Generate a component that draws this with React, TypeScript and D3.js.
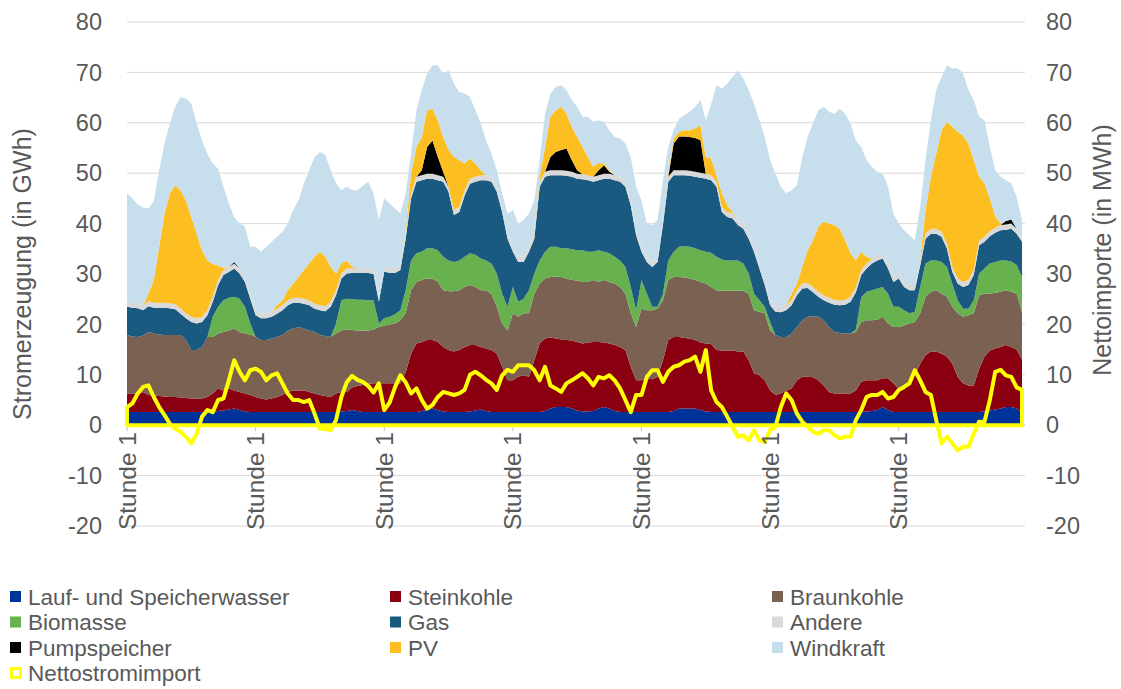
import React from 'react';
import * as d3 from 'd3';

// Stündliche Werte über 7 Tage (168 Stunden), in GWh
const wasser = [
  2.6,2.6,2.6,2.6,2.6,2.6,2.6,2.6,2.6,2.6,2.6,2.6,2.6,2.6,2.6,2.6,2.6,2.8,2.9,3.1,3.3,3.0,2.7,2.6,
  2.6,2.6,2.6,2.6,2.6,2.6,2.6,2.6,2.6,2.6,2.6,2.6,2.6,2.6,2.6,2.6,2.7,2.8,3.0,2.8,2.6,2.6,2.6,2.6,
  2.6,2.6,2.6,2.6,2.6,2.6,2.6,2.8,3.0,3.3,3.0,2.7,2.6,2.6,2.6,2.6,2.7,2.9,3.1,2.8,2.6,2.6,2.6,2.6,
  2.6,2.6,2.6,2.6,2.6,2.6,2.8,3.3,3.6,3.6,3.6,3.3,2.9,2.7,2.7,2.8,3.3,3.6,3.3,2.8,2.6,2.6,2.6,2.6,
  2.6,2.6,2.6,2.6,2.6,2.6,2.8,3.3,3.3,3.3,3.3,3.0,2.7,2.6,2.6,2.6,2.6,2.6,2.6,2.6,2.6,2.6,2.6,2.6,
  2.6,2.6,2.6,2.6,2.6,2.6,2.6,2.6,2.6,2.6,2.6,2.6,2.6,2.6,2.6,2.6,2.6,2.6,2.7,2.8,3.0,3.6,3.0,2.6,
  2.6,2.6,2.6,2.6,2.6,2.6,2.6,2.6,2.6,2.6,2.6,2.6,2.6,2.6,2.6,2.6,2.7,2.9,3.1,3.3,3.6,3.6,3.3,2.6,
];
const steinkohle = [
  3.7,3.7,3.7,4.0,3.4,3.3,3.2,3.1,3.0,3.0,2.9,2.8,2.7,2.7,2.7,3.0,3.7,4.5,4.0,4.2,3.6,3.6,3.6,3.4,
  3.0,2.7,2.5,2.7,3.0,3.4,4.0,4.3,4.3,4.3,4.0,3.7,3.4,3.2,3.0,3.7,3.9,3.8,4.5,5.0,5.4,5.6,5.7,5.7,
  5.7,5.7,5.7,5.7,7.9,11.6,13.6,13.7,13.9,13.6,13.5,12.8,12.3,12.0,12.3,12.9,13.2,13.0,12.4,12.4,12.3,11.6,9.0,6.3,
  6.3,7.0,7.3,7.0,10.3,13.6,14.4,14.1,13.6,13.4,13.3,13.5,13.6,13.5,13.7,13.7,13.2,12.8,12.9,13.1,12.9,12.3,9.0,6.3,
  6.3,6.7,6.5,7.0,10.3,14.3,14.7,14.2,14.0,13.9,13.6,13.4,13.5,13.5,12.3,12.2,12.2,12.2,12.0,12.0,10.3,7.7,7.3,6.3,
  4.3,3.4,3.7,4.3,4.7,6.3,7.0,7.0,6.9,6.3,5.3,4.0,3.7,3.7,3.7,3.7,4.3,6.0,6.2,6.1,5.9,5.7,6.3,5.7,
  4.7,5.3,6.0,7.3,9.6,11.3,12.0,12.0,11.6,11.0,9.6,7.0,5.7,5.3,5.3,8.6,10.9,11.9,12.1,12.2,12.3,11.9,11.7,10.4,
];
const braunkohle = [
  11.6,11.3,11.2,11.2,12.5,12.3,12.2,12.2,12.3,12.3,12.4,11.5,9.6,9.6,10.2,11.9,11.2,10.9,11.6,11.5,12.3,11.9,11.9,12.0,
  11.9,11.6,11.8,11.9,11.9,11.9,12.2,12.3,12.6,12.3,12.2,12.2,11.9,11.9,11.9,11.9,12.2,12.4,11.4,11.0,10.8,10.6,10.7,11.2,
  11.5,11.7,11.9,12.5,11.7,12.6,12.2,12.3,12.2,12.2,11.9,11.3,11.7,12.0,11.9,11.9,11.9,11.5,11.3,11.6,11.2,9.3,8.6,9.9,
  13.3,11.9,12.3,12.6,13.2,11.9,11.9,12.0,12.3,12.4,12.2,12.0,12.2,12.2,12.0,12.3,11.9,12.4,12.2,12.2,11.9,11.2,10.6,10.6,
  14.2,13.5,13.7,13.5,11.9,11.9,11.9,11.9,12.0,11.9,11.9,12.0,11.9,11.3,11.9,11.9,11.9,11.9,12.1,12.1,13.2,12.5,12.6,13.3,
  11.9,11.9,11.2,10.6,10.9,10.6,11.2,11.9,12.1,12.6,12.9,12.9,12.2,12.0,11.9,11.9,11.6,11.9,11.9,11.9,12.0,12.2,10.9,11.2,
  12.2,11.9,11.6,10.6,10.0,11.6,11.9,12.2,11.9,11.9,11.3,12.6,13.2,13.9,14.3,14.6,12.5,11.3,11.1,11.0,10.9,11.0,11.1,9.5,
];
const biomasse = [
  0,0,0,0,0,0,0,0,0,0,0,0,0,0,0,0,4.0,5.3,6.3,6.5,6.3,6.6,5.3,2.2,
  0,0,0,0,0,0,0,0,0,0,0,0,0,0,0,2.0,6.0,6.1,6.1,6.1,6.1,6.0,5.8,0.7,
  1.4,1.5,1.8,2.0,4.6,5.9,5.7,5.6,6.0,6.0,6.3,6.6,6.1,5.8,5.9,6.0,6.3,6.4,6.3,5.9,6.0,6.6,5.9,4.7,
  5.2,3.0,2.9,4.6,4.0,4.6,5.3,6.0,5.9,5.7,6.0,6.1,6.0,6.3,6.0,5.6,6.3,5.6,5.7,5.3,5.3,5.3,5.2,3.3,
  5.7,3.3,0.7,0.4,1.3,3.9,5.0,6.0,6.2,6.3,6.3,6.3,6.3,6.8,6.6,6.2,6.0,6.0,6.0,5.4,4.0,3.3,2.3,1.3,
  1.7,0,0,0,0,0,0,0,0,0,0,0,0,0,0,0,0.5,4.9,5.7,6.0,6.2,5.9,5.9,4.0,
  4.0,3.0,2.0,2.0,5.2,6.6,6.2,5.9,6.3,5.9,4.5,2.6,1.6,1.3,2.6,4.3,5.0,6.0,6.1,6.2,5.9,6.0,5.7,6.9,
];
const gas = [
  5.6,5.7,5.7,5.0,5.1,5.1,5.3,5.4,5.3,5.1,4.2,4.3,5.6,5.3,5.0,4.3,3.0,4.3,5.0,5.1,5.6,5.0,4.9,4.9,
  4.3,4.3,4.3,4.3,4.6,4.9,5.0,5.1,4.8,4.9,5.0,4.6,4.9,4.9,6.0,5.6,4.3,5.0,5.2,5.3,5.3,5.4,5.2,4.3,
  9.3,8.7,8.2,8.0,10.2,12.3,14.2,14.2,13.8,13.8,13.9,14.9,13.6,9.3,9.6,12.2,13.8,14.5,15.5,15.9,16.2,16.2,16.2,13.5,
  7.0,7.9,7.3,7.6,6.9,14.6,14.9,14.2,14.2,14.5,14.4,14.4,14.2,14.1,14.2,13.9,13.9,14.5,14.8,15.2,15.6,15.9,16.2,14.9,
  5.6,6.3,7.9,8.9,13.6,15.6,15.2,14.2,14.1,14.1,14.2,14.4,14.5,14.4,13.9,9.4,8.6,8.3,7.0,6.9,6.9,8.3,6.3,4.3,
  3.3,4.6,4.9,5.3,5.6,6.3,6.3,5.7,4.8,4.0,4.0,4.8,5.4,5.5,5.7,6.3,7.4,4.4,4.6,5.3,5.6,5.7,5.0,4.9,
  5.6,4.6,4.6,4.3,4.3,4.9,5.3,5.3,5.0,3.6,2.4,3.3,4.3,4.7,5.0,5.6,5.3,5.4,5.8,6.0,6.1,6.5,6.2,7.0,
];
const andere = [
  1.0,1.0,1.0,1.0,1.0,1.0,1.0,1.0,1.0,1.0,1.0,1.0,1.0,1.0,1.0,1.0,1.0,1.0,1.0,1.0,1.0,1.0,1.0,1.0,
  1.0,1.0,1.0,1.0,1.0,1.0,1.0,1.0,1.0,1.0,1.0,1.0,1.0,1.0,1.0,1.0,1.0,1.0,1.0,1.0,1.0,1.0,1.0,1.0,
  1.0,1.0,1.0,1.0,1.0,1.0,1.0,1.0,1.0,1.0,1.0,1.0,1.0,1.0,1.0,1.0,1.0,1.0,1.0,1.0,1.0,1.0,1.0,1.0,
  1.0,1.0,1.0,1.0,1.0,1.0,1.0,1.0,1.0,1.0,1.0,1.0,1.0,1.0,1.0,1.0,1.0,1.0,1.0,1.0,1.0,1.0,1.0,1.0,
  1.0,1.0,1.0,1.0,1.0,1.0,1.0,1.0,1.0,1.0,1.0,1.0,1.0,1.0,1.0,1.0,1.0,1.0,1.0,1.0,1.0,1.0,1.0,1.0,
  1.0,1.0,1.0,1.0,1.0,1.0,1.0,1.0,1.0,1.0,1.0,1.0,1.0,1.0,1.0,1.0,1.0,1.0,1.0,1.0,1.0,1.0,1.0,1.0,
  1.0,1.0,1.0,1.0,1.0,1.0,1.0,1.0,1.0,1.0,1.0,1.0,1.0,1.0,1.0,1.0,1.0,1.0,1.0,1.0,1.0,1.0,1.0,1.0,
];
const pumpspeicher = [
  0,0,0,0,0,0,0,0,0,0,0,0,0,0,0,0,0,0,0,0,0.3,0,0,0,
  0,0,0,0,0,0,0,0,0,0,0,0,0,0,0,0,0,0,0,0,0,0,0,0,
  0,0,0,0,0,0,0,1.0,5.3,6.6,3.6,1.0,0,0,0,0,0,0,0,0,0,0,0,0,
  0,0,0,0,0,0,0,2.6,3.6,4.0,4.4,2.3,0.7,0,0,0,1.0,1.7,0.4,0,0,0,0,0,
  0,0,0,0,0,0,5.3,6.7,6.7,6.7,6.7,6.5,0,0,0,0,0,0,0,0,0,0,0,0,
  0,0,0,0,0,0,0,0,0,0,0,0,0,0,0,0,0,0,0,0,0,0,0,0,
  0,0,0,0,0,0,0,0,0,0,0,0,0,0,0,0,0,0,0,0,0.7,0.8,0,0,
];
const pv = [
  0,0,0,0,1.5,4.5,11.1,17.7,21.8,23.6,23.5,22.4,19.8,16.8,13.2,9.9,6.5,2.9,0.4,0,0,0,0,0,
  0,0,0,0,0.7,1.0,2.0,2.8,4.1,5.7,7.3,9.3,10.6,9.8,6.9,3.3,2.0,1.6,0.3,0,0,0,0,0,
  0,0,0,0,0.5,4.0,5.9,6.6,7.3,6.3,7.3,6.9,7.3,10.5,9.3,5.3,4.0,2.6,1.0,0,0,0,0,0,
  0,0,0,0,0.3,1.0,4.9,8.0,8.3,8.6,6.9,6.6,6.6,5.4,3.6,2.0,1.4,0.3,0.3,0,0,0,0,0,
  0,0,0,0,0,0.7,1.0,0.9,1.2,1.3,1.9,2.9,3.3,3.3,1.3,2.7,1.4,0.3,0,0,0,0,0,0,
  0,0,0,0.1,1.3,1.3,3.3,6.5,9.3,12.9,14.6,14.7,14.8,14.2,11.8,8.6,5.3,3.6,1.3,0,0,0,0,0,
  0,0,0,0,0.3,4.7,10.3,14.9,20.1,24.2,27.8,29.1,29.1,27.1,21.8,12.6,10.6,6.5,2.3,0.3,0,0,0,0,
];
const windkraft = [
  21.5,20.7,19.6,19.4,16.9,15.7,15.2,13.9,13.9,15.6,18.5,20.2,22.5,21.9,21.8,21.2,19.9,19.2,16.1,12.6,8.9,8.9,10.0,9.3,
  12.6,12.2,13.2,13.9,13.6,13.6,13.2,14.6,15.2,17.2,18.5,19.8,19.8,20.2,19.2,17.9,14.5,14.6,15.1,15.4,16.3,17.1,15.0,15.2,
  13.5,12.8,11.8,10.2,7.5,4.0,7.3,9.3,7.3,8.6,10.9,12.6,15.8,14.6,13.5,13.9,12.2,10.6,9.3,6.9,4.6,3.3,2.7,4.0,
  7.3,6.6,7.3,6.6,6.3,3.3,6.6,4.6,4.6,4.3,4.7,5.3,6.0,6.0,8.0,8.9,8.5,8.3,7.9,7.6,7.6,7.6,8.6,8.6,
  9.2,6.6,7.3,7.3,7.9,5.2,1.6,2.6,3.0,3.7,4.3,5.0,7.3,10.9,17.9,20.8,24.1,26.8,29.7,28.8,28.5,28.4,28.4,28.4,
  27.8,26.4,23.9,22.1,20.5,19.5,21.8,22.5,23.2,23.1,22.8,22.2,22.1,23.8,25.1,25.8,23.8,20.8,19.2,18.2,16.6,15.8,15.2,12.6,
  9.9,10.3,9.9,8.9,10.3,9.9,11.2,12.6,10.6,11.2,11.6,12.6,12.3,10.6,11.9,11.9,12.5,10.2,9.1,9.3,8.1,7.2,6.3,3.3,
];
// Nettostromimport, rechte Achse (in MWh)
const nettoimport = [
  3.6,4.3,6.3,7.6,7.9,5.6,3.6,2.0,0.3,-0.7,-1.3,-2.3,-3.6,-1.7,1.7,3.0,2.6,5.0,5.3,8.9,12.9,10.6,8.9,10.9,
  11.2,10.6,8.9,9.9,10.3,8.3,6.3,5.0,5.0,4.6,5.0,2.3,-0.7,-0.7,-1.0,1.0,5.6,8.5,9.8,9.0,8.6,7.8,6.5,8.3,
  3.0,4.5,7.5,9.9,8.5,6.3,7.3,5.0,3.3,4.0,5.6,6.6,6.3,6.0,6.3,7.0,10.0,10.6,9.9,9.0,8.3,7.0,9.9,11.0,
  10.6,11.9,11.9,11.9,10.9,8.9,11.6,7.9,7.3,6.6,8.3,8.9,9.6,10.3,9.3,7.9,9.6,9.3,9.9,8.9,7.3,5.0,2.6,6.0,
  6.0,9.6,10.9,10.9,8.6,10.6,11.6,11.9,12.6,12.9,13.6,10.6,14.9,6.9,4.6,3.6,1.7,-0.3,-2.3,-2.0,-3.0,-1.0,-3.0,-3.3,
  -1.0,-0.3,3.6,6.3,5.0,2.3,0.7,-0.3,-1.3,-1.7,-1.0,-1.0,-2.0,-2.6,-2.3,-2.3,1.0,3.0,5.6,6.0,6.0,6.6,5.3,5.6,
  7.0,7.6,8.3,10.9,8.9,6.6,6.0,1.0,-3.6,-2.3,-3.6,-5.0,-4.3,-4.3,-1.7,0.7,0.7,5.0,10.6,11.0,9.9,9.6,7.5,7.0,
];

const stunden = d3.range(wasser.length).map(i => `Stunde ${(i % 24) + 1}`);
const yTicks = [-20, -10, 0, 10, 20, 30, 40, 50, 60, 70, 80];

const serien = [
  { key: 'wasser', name: 'Lauf- und Speicherwasser', color: '#003399', values: wasser },
  { key: 'steinkohle', name: 'Steinkohle', color: '#8B0011', values: steinkohle },
  { key: 'braunkohle', name: 'Braunkohle', color: '#7B6151', values: braunkohle },
  { key: 'biomasse', name: 'Biomasse', color: '#67B14F', values: biomasse },
  { key: 'gas', name: 'Gas', color: '#1A5A80', values: gas },
  { key: 'andere', name: 'Andere', color: '#D9D9D9', values: andere },
  { key: 'pumpspeicher', name: 'Pumpspeicher', color: '#000000', values: pumpspeicher },
  { key: 'pv', name: 'PV', color: '#FDBE21', values: pv },
  { key: 'wind', name: 'Windkraft', color: '#C7DFED', values: windkraft },
];

const FONT = '"Liberation Sans", Arial, sans-serif';
const GREY = '#595959';

export default function App() {
  const width = 1121;
  const height = 689;

  const x = d3.scaleLinear().domain([0, stunden.length - 1]).range([127, 1022]);
  const y = d3.scaleLinear().domain([-20, 80]).range([526, 22]);

  // Tabelle für d3.stack
  const rows = stunden.map((s, i) => {
    const r: any = { stunde: s };
    serien.forEach(se => { r[se.key] = se.values[i]; });
    return r;
  });
  const stacked = d3.stack().keys(serien.map(s => s.key))(rows);

  const area = d3.area<any>()
    .x((d, i) => x(i))
    .y0(d => y(d[0]))
    .y1(d => y(d[1]));

  // Nettoimport als Fläche ohne Füllung (nur Rand)
  const importPath = d3.area<number>()
    .x((d, i) => x(i))
    .y0(y(0))
    .y1(d => y(d))(nettoimport);

  const dayStarts = stunden.map((s, i) => i).filter(i => i % 24 === 0);

  const legend = [
    ...serien.map(s => ({ name: s.name, color: s.color, hollow: false })),
    { name: 'Nettostromimport', color: '#FFFF00', hollow: true },
  ];
  const colX = [10, 390, 772];
  const rowY = [597, 622.5, 648, 673.5];

  return (
    <svg width={width} height={height} style={{ position: 'absolute', left: 0, top: 0, background: '#fff' }}
      fontFamily={FONT}>
      {/* Gitternetz */}
      {yTicks.map(t => (
        <line key={t} x1={x(0)} x2={x(stunden.length - 1) + 3} y1={y(t)} y2={y(t)} stroke="#D9D9D9" strokeWidth={1} />
      ))}

      {/* gestapelte Flächen */}
      {stacked.map((layer, k) => (
        <path key={serien[k].key} d={area(layer as any) || ''} fill={serien[k].color} />
      ))}

      {/* Achse bei 0 */}
      <line x1={x(0)} x2={x(stunden.length - 1) + 3} y1={y(0)} y2={y(0)} stroke="#BFBFBF" />
      {dayStarts.map(i => (
        <line key={i} x1={x(i)} x2={x(i)} y1={y(0)} y2={y(0) + 6} stroke="#BFBFBF" />
      ))}

      {/* Nettostromimport */}
      <path d={importPath || ''} fill="none" stroke="#FFFF00" strokeWidth={4} strokeLinejoin="round" />

      {/* linke Achse */}
      {yTicks.map(t => (
        <text key={'l' + t} x={102} y={y(t)} dy="0.35em" textAnchor="end" fontSize={23.5} fill={GREY}>{t}</text>
      ))}
      {/* rechte Achse */}
      {yTicks.map(t => (
        <text key={'r' + t} x={1046} y={y(t)} dy="0.35em" textAnchor="start" fontSize={23.5} fill={GREY}>{t}</text>
      ))}

      {/* Kategorien */}
      {dayStarts.map(i => (
        <text key={'s' + i} transform={`translate(${x(i)},432) rotate(-90)`} dy="0.35em" textAnchor="end"
          fontSize={24.5} fill={GREY}>{stunden[i]}</text>
      ))}

      {/* Achsentitel */}
      <text transform="translate(22,274) rotate(-90)" dy="0.35em" textAnchor="middle" fontSize={25} fill={GREY}>
        Stromerzeugung (in GWh)
      </text>
      <text transform="translate(1102,250) rotate(-90)" dy="0.35em" textAnchor="middle" fontSize={25} fill={GREY}>
        Nettoimporte (in MWh)
      </text>

      {/* Legende */}
      {legend.map((l, idx) => {
        const cx = colX[idx % 3];
        const cy = rowY[Math.floor(idx / 3)];
        return (
          <g key={l.name}>
            {l.hollow
              ? <rect x={cx + 1.5} y={cy - 5} width={9} height={9} fill="#fff" stroke={l.color} strokeWidth={3} />
              : <rect x={cx} y={cy - 6} width={11} height={11} fill={l.color} />}
            <text x={cx + 18} y={cy} dy="0.35em" fontSize={22.5} fill={GREY}>{l.name}</text>
          </g>
        );
      })}
    </svg>
  );
}
